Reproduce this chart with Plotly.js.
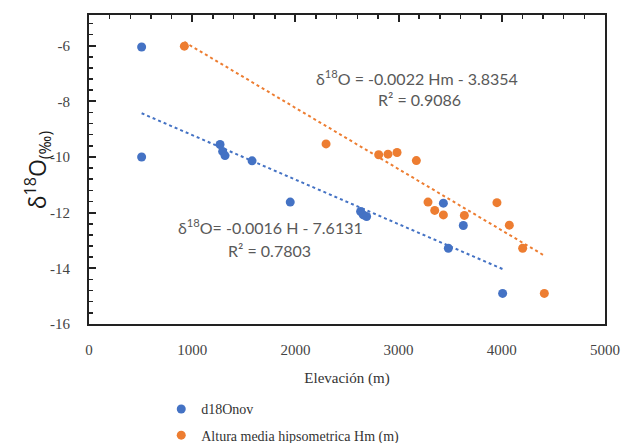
<!DOCTYPE html>
<html>
<head>
<meta charset="utf-8">
<script src="https://cdn.plot.ly/plotly-3.0.1.min.js"></script>
<style>html,body{margin:0;padding:0;background:#fff;}#chart{width:627px;height:443px;}</style>
</head>
<body>
<div id="chart"></div>
<script>
// Data
const elevH = [510, 510, 1270, 1295, 1318, 1580, 1950, 2632, 2658, 2690, 3434, 3482, 3627, 4008];
const d18O_H = [-6.05, -10.0, -9.55, -9.8, -9.95, -10.14, -11.62, -11.96, -12.08, -12.14, -11.66, -13.28, -12.46, -14.9];
const elevHm = [924, 2297, 2807, 2897, 2985, 3172, 3285, 3350, 3434, 3637, 3953, 4073, 4202, 4412];
const d18O_Hm = [-6.02, -9.53, -9.92, -9.9, -9.84, -10.13, -11.62, -11.92, -12.08, -12.1, -11.64, -12.45, -13.28, -14.9];
const fitH = [-0.0016, -7.6131];
const fitHm = [-0.0022, -3.8354];
const seriesNames = ["d18Onov", "Altura media hipsometrica Hm (m)"];
const xTicks = [0, 1000, 2000, 3000, 4000, 5000];
const yTicks = [-16, -14, -12, -10, -8, -6];
const yTickText = ["-16", "-14", "-12", "-10", "-8", "-6"];

const blue = "#4472C4", orange = "#ED7D31";
function lineFrom(xs, fit) {
  const x0 = Math.min(...xs), x1 = Math.max(...xs);
  return {x: [x0, x1], y: [fit[0]*x0 + fit[1], fit[0]*x1 + fit[1]]};
}
const lH = lineFrom(elevH, fitH), lHm = lineFrom(elevHm, fitHm);

const traces = [
  {x: lH.x, y: lH.y, mode: "lines", line: {color: blue, width: 2, dash: "dot"}, showlegend: false, hoverinfo: "skip"},
  {x: lHm.x, y: lHm.y, mode: "lines", line: {color: orange, width: 2, dash: "dot"}, showlegend: false, hoverinfo: "skip"},
  {x: elevH, y: d18O_H, mode: "markers", name: seriesNames[0], legendgroup: "a", marker: {color: blue, size: 9}},
  {x: elevHm, y: d18O_Hm, mode: "markers", name: seriesNames[1], legendgroup: "b", marker: {color: orange, size: 9}},
  {x: [-1000], y: [-20], xaxis: "x2", yaxis: "y2", mode: "markers", showlegend: false, hoverinfo: "skip", marker: {opacity: 0}}
];

const serif = "Liberation Serif";
const sans = "Lato";
const tc = "#222";
const eqFont = {family: sans, size: 16, color: "#595959"};
const layout = {
  width: 627, height: 443,
  margin: {l: 89, r: 22, t: 15, b: 119},
  paper_bgcolor: "#fff", plot_bgcolor: "#fff",
  showlegend: true,
  legend: {xref: "paper", yref: "container", x: 0.14, xanchor: "left", y: 0.112, yanchor: "top",
           traceorder: "grouped", tracegroupgap: 5,
           font: {family: serif, size: 14, color: "#333"}, bgcolor: "rgba(0,0,0,0)"},
  xaxis: {range: [0, 5000], tickmode: "array", tickvals: xTicks, ticks: "", showgrid: false, zeroline: false,
          showline: true, linecolor: tc, linewidth: 2, mirror: true,
          ticklabelstandoff: 11, tickfont: {family: serif, size: 15, color: "#444"},
          title: {text: "Elevación (m)", font: {family: serif, size: 15, color: "#333"}, standoff: 15}},
  xaxis2: {overlaying: "x", side: "top", anchor: "y2", range: [0, 5000], tickmode: "linear", tick0: 0, dtick: 1000,
           ticks: "inside", ticklen: 7, tickwidth: 2, tickcolor: tc, showticklabels: false,
           showgrid: false, zeroline: false, showline: false,
           minor: {tickmode: "linear", tick0: 0, dtick: 200, ticks: "inside", ticklen: 4, tickwidth: 1.5, tickcolor: tc}},
  yaxis: {range: [-16, -4.9], tickmode: "array", tickvals: yTicks, ticktext: yTickText, ticks: "",
          showgrid: false, zeroline: false, showline: true, linecolor: tc, linewidth: 2, mirror: true,
          ticklabelstandoff: 14, tickfont: {family: serif, size: 15, color: "#444"}},
  yaxis2: {overlaying: "y", side: "left", anchor: "x2", range: [-16, -4.9], tickmode: "linear", tick0: -16, dtick: 2,
           ticks: "inside", ticklen: 7, tickwidth: 2, tickcolor: tc, showticklabels: false,
           showgrid: false, zeroline: false, showline: false,
           minor: {tickmode: "linear", tick0: -16, dtick: 0.4, ticks: "inside", ticklen: 4, tickwidth: 1.5, tickcolor: tc}},
  annotations: [
    {xref: "paper", yref: "paper", x: -0.14, y: 0.5, textangle: -90, showarrow: false,
     text: "δ<sup>18</sup>O<sub>(‰)</sub>", font: {family: "Open Sans", size: 23, color: "#1a1a1a"}},
    {xref: "x", yref: "y", x: 2180, xanchor: "left", y: -7.15, showarrow: false, text: "δ<sup>18</sup>O = -0.0022 Hm - 3.8354", font: eqFont},
    {xref: "x", yref: "y", x: 3200, y: -7.95, showarrow: false, text: "R² = 0.9086", font: eqFont},
    {xref: "x", yref: "y", x: 845, xanchor: "left", y: -12.5, showarrow: false, text: "δ<sup>18</sup>O= -0.0016 H - 7.6131", font: eqFont},
    {xref: "x", yref: "y", x: 1750, y: -13.35, showarrow: false, text: "R² = 0.7803", font: eqFont}
  ]
};
Plotly.newPlot("chart", traces, layout, {displayModeBar: false, staticPlot: true});
</script>
</body>
</html>
